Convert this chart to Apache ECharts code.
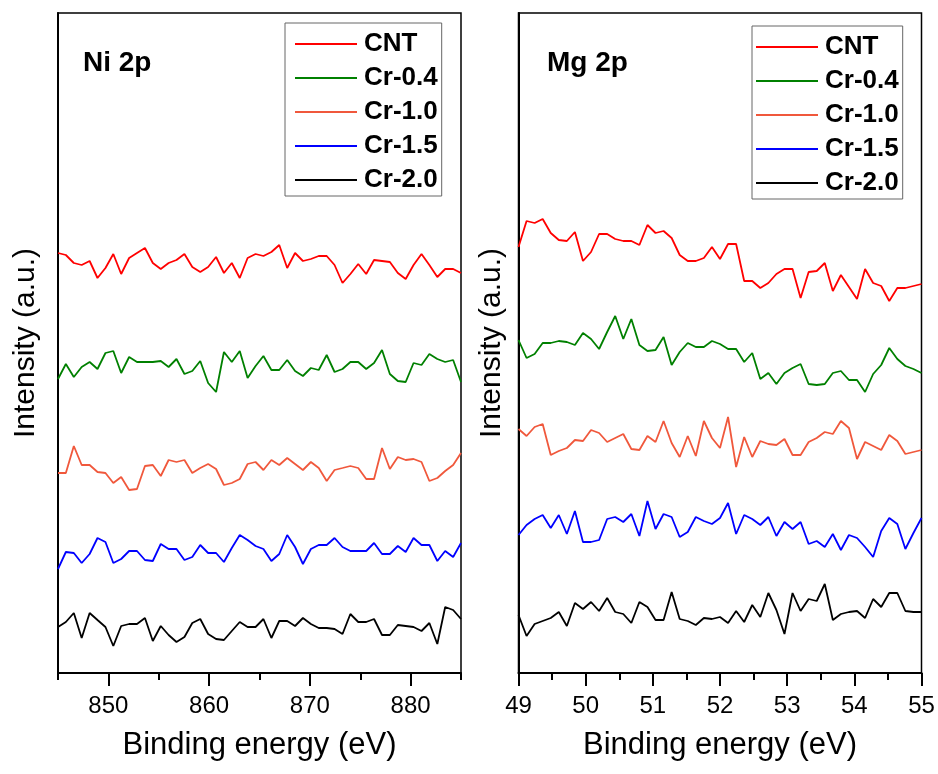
<!DOCTYPE html>
<html>
<head>
<meta charset="utf-8">
<script src="https://cdn.jsdelivr.net/npm/echarts@6/dist/echarts.min.js"></script>
<style>
html, body { margin: 0; padding: 0; background: #fff; }
#chart { width: 938px; height: 774px; }
</style>
</head>
<body>
<div id="chart"></div>
<script>
// binding energies (eV)
const niEnergy = [845.0, 845.78, 846.57, 847.35, 848.14, 848.92, 849.71, 850.49, 851.27, 852.06, 852.84, 853.63, 854.41, 855.2, 855.98, 856.76, 857.55, 858.33, 859.12, 859.9, 860.69, 861.47, 862.25, 863.04, 863.82, 864.61, 865.39, 866.18, 866.96, 867.75, 868.53, 869.31, 870.1, 870.88, 871.67, 872.45, 873.24, 874.02, 874.8, 875.59, 876.37, 877.16, 877.94, 878.73, 879.51, 880.29, 881.08, 881.86, 882.65, 883.43, 884.22, 885.0];
const mgEnergy = [49, 49.12, 49.24, 49.36, 49.48, 49.6, 49.72, 49.84, 49.96, 50.08, 50.2, 50.32, 50.44, 50.56, 50.68, 50.8, 50.92, 51.04, 51.16, 51.28, 51.4, 51.52, 51.64, 51.76, 51.88, 52, 52.12, 52.24, 52.36, 52.48, 52.6, 52.72, 52.84, 52.96, 53.08, 53.2, 53.32, 53.44, 53.56, 53.68, 53.8, 53.92, 54.04, 54.16, 54.28, 54.4, 54.52, 54.64, 54.76, 54.88, 55];

const names = ['CNT', 'Cr-0.4', 'Cr-1.0', 'Cr-1.5', 'Cr-2.0'];
const colors = ['#ff0000', '#008000', '#f0583c', '#0000ff', '#000000'];

// Ni 2p intensities (a.u., stacked offsets)
const niCNT = [420, 418, 410, 408, 412, 395, 405, 419, 399, 415, 420, 425, 410, 404, 410, 413, 419, 406, 401, 406, 416, 400, 410, 395, 415, 419, 417, 421, 428, 405, 420, 412, 414, 417, 417, 408, 390, 399, 409, 399, 413, 412, 411, 400, 394, 408, 419, 408, 396, 404, 404, 400];
const niCr04 = [294, 309, 296, 306, 311, 304, 320, 322, 300, 316, 311, 311, 311, 312, 306, 314, 299, 302, 312, 290, 281, 321, 311, 322, 295, 307, 317, 303, 303, 313, 302, 297, 305, 303, 318, 301, 304, 311, 311, 304, 310, 323, 299, 292, 291, 310, 308, 319, 314, 311, 313, 291];
const niCr10 = [200, 200, 227, 208, 208, 201, 200, 190, 196, 183, 184, 207, 208, 197, 213, 211, 213, 200, 205, 209, 204, 188, 190, 194, 209, 211, 203, 213, 208, 215, 209, 203, 211, 205, 192, 203, 205, 207, 205, 194, 194, 225, 204, 216, 213, 214, 211, 192, 195, 202, 208, 220];
const niCr15 = [104, 121, 120, 110, 119, 135, 131, 110, 114, 122, 122, 113, 112, 129, 124, 124, 113, 116, 128, 120, 120, 111, 125, 138, 133, 127, 124, 112, 119, 138, 126, 109, 124, 128, 128, 135, 126, 122, 122, 122, 130, 119, 119, 127, 121, 135, 128, 128, 112, 122, 116, 130];
const niCr20 = [46, 51, 60, 35, 60, 53, 46, 27, 47, 49, 49, 55, 32, 47, 38, 31, 36, 50, 54, 39, 34, 33, 42, 51, 46, 46, 54, 35, 52, 52, 47, 55, 49, 45, 45, 44, 39, 59, 51, 51, 54, 38, 38, 48, 47, 46, 42, 50, 29, 66, 63, 54];

// Mg 2p intensities
const mgCNT = [426, 452, 450, 454, 440, 433, 432, 441, 412, 421, 439, 439, 434, 432, 432, 428, 448, 440, 442, 435, 418, 412, 412, 415, 426, 414, 429, 429, 392, 392, 385, 390, 399, 404, 404, 375, 401, 402, 410, 382, 398, 386, 374, 404, 390, 387, 372, 385, 385, 387, 389];
const mgCr04 = [333, 315, 319, 330, 330, 332, 331, 328, 340, 334, 324, 341, 357, 334, 354, 328, 322, 323, 336, 308, 321, 330, 326, 326, 332, 329, 324, 324, 311, 320, 294, 300, 289, 300, 305, 309, 289, 288, 289, 300, 302, 293, 293, 281, 299, 308, 325, 314, 307, 304, 300];
const mgCr10 = [244, 237, 246, 249, 218, 222, 225, 233, 232, 243, 240, 231, 235, 239, 224, 223, 237, 231, 252, 230, 216, 237, 217, 252, 235, 225, 256, 206, 236, 216, 232, 229, 228, 234, 218, 218, 231, 235, 241, 239, 252, 245, 214, 231, 227, 223, 238, 232, 219, 221, 223];
const mgCr15 = [138, 148, 154, 158, 145, 158, 139, 162, 131, 131, 133, 154, 156, 151, 159, 137, 172, 144, 159, 156, 136, 141, 156, 152, 149, 155, 170, 139, 158, 154, 148, 156, 137, 151, 144, 151, 129, 132, 126, 139, 123, 138, 135, 126, 116, 142, 155, 149, 124, 140, 155];
const mgCr20 = [58, 37, 49, 52, 55, 61, 47, 70, 64, 71, 62, 75, 61, 59, 50, 71, 66, 53, 53, 81, 54, 52, 48, 55, 54, 56, 50, 62, 51, 68, 56, 80, 63, 39, 80, 62, 74, 72, 89, 53, 59, 61, 62, 55, 74, 66, 80, 80, 62, 61, 61];

const niTicks = [850, 860, 870, 880];
const niMinorTicks = [845, 855, 865, 875, 885];

const niSets = [niCNT, niCr04, niCr10, niCr15, niCr20];
const mgSets = [mgCNT, mgCr04, mgCr10, mgCr15, mgCr20];

const sans = "'Liberation Sans', Arial, sans-serif";

let myChart = echarts.init(document.getElementById('chart'));

function zip (xs, ys) {
  return ys.map((y, i) => [xs[i], y]);
}

function yAxisFor (grid, gap) {
  return {
    type: 'value',
    gridIndex: grid,
    min: 0,
    max: 660,
    name: 'Intensity (a.u.)',
    nameLocation: 'middle',
    nameGap: gap,
    nameTextStyle: { fontFamily: sans, fontSize: 30, color: '#000' },
    axisLine: { show: true, lineStyle: { color: '#000', width: 2 } },
    axisTick: { show: false },
    axisLabel: { show: false },
    splitLine: { show: false }
  };
}

function legendFor (left, top, padLeft) {
  return {
    orient: 'vertical',
    left: left,
    top: top,
    data: names,
    // plain line key, 62 px long and 2 px thick
    icon: 'path://M0,0 L62,0 L62,2 L0,2 Z',
    symbolKeepAspect: true,
    itemWidth: 62,
    itemHeight: 26,
    itemGap: 8,
    padding: [8, 4, 3, padLeft],
    borderColor: '#666',
    borderWidth: 1,
    borderRadius: 0,
    textStyle: { fontFamily: sans, fontWeight: 'bold', fontSize: 26, color: '#000', padding: [0, 0, 0, 2] },
    selectedMode: false
  };
}

let series = [];
names.forEach((name, k) => {
  series.push({
    name: name,
    type: 'line',
    xAxisIndex: 0,
    yAxisIndex: 0,
    data: zip(niEnergy, niSets[k]),
    symbol: 'none',
    lineStyle: { color: colors[k], width: 1.8 },
    itemStyle: { color: colors[k] },
    animation: false
  });
  series.push({
    name: name,
    type: 'line',
    xAxisIndex: 2,
    yAxisIndex: 1,
    data: zip(mgEnergy, mgSets[k]),
    symbol: 'none',
    lineStyle: { color: colors[k], width: 1.8 },
    itemStyle: { color: colors[k] },
    animation: false
  });
});

let option = {
  backgroundColor: '#fff',
  animation: false,
  title: [
    { text: 'Ni 2p', left: 83, top: 49, padding: 0, textStyle: { fontFamily: sans, fontWeight: 'bold', fontSize: 28, color: '#000' } },
    { text: 'Mg 2p', left: 547, top: 49, padding: 0, textStyle: { fontFamily: sans, fontWeight: 'bold', fontSize: 28, color: '#000' } }
  ],
  legend: [
    legendFor(285, 23, 10),
    legendFor(752, 26, 4)
  ],
  grid: [
    { left: 58, top: 13, width: 403, height: 660, show: true, borderColor: '#000', borderWidth: 1.5 },
    { left: 518.5, top: 13, width: 403, height: 660, show: true, borderColor: '#000', borderWidth: 1.5 }
  ],
  xAxis: [
    {
      type: 'value',
      gridIndex: 0,
      min: 845,
      max: 885,
      name: 'Binding energy (eV)',
      nameLocation: 'middle',
      nameGap: 57,
      nameTextStyle: { fontFamily: sans, fontSize: 31, color: '#000', verticalAlign: 'top' },
      axisLine: { lineStyle: { color: '#000', width: 2 } },
      axisTick: { customValues: niTicks, length: 13, lineStyle: { color: '#000', width: 2 } },
      axisLabel: { customValues: niTicks, margin: 21, fontFamily: sans, fontSize: 24, color: '#000' },
      splitLine: { show: false }
    },
    {
      // short ticks between the labelled ones
      type: 'value',
      gridIndex: 0,
      position: 'bottom',
      min: 845,
      max: 885,
      axisLine: { show: false },
      axisTick: { customValues: niMinorTicks, length: 7, lineStyle: { color: '#000', width: 2 } },
      axisLabel: { show: false },
      splitLine: { show: false }
    },
    {
      type: 'value',
      gridIndex: 1,
      min: 49,
      max: 55,
      interval: 1,
      name: 'Binding energy (eV)',
      nameLocation: 'middle',
      nameGap: 57,
      nameTextStyle: { fontFamily: sans, fontSize: 31, color: '#000', verticalAlign: 'top' },
      axisLine: { lineStyle: { color: '#000', width: 2 } },
      axisTick: { length: 13, lineStyle: { color: '#000', width: 2 } },
      minorTick: { show: true, splitNumber: 2, length: 7, lineStyle: { color: '#000', width: 2 } },
      axisLabel: { margin: 21, fontFamily: sans, fontSize: 24, color: '#000' },
      splitLine: { show: false }
    }
  ],
  yAxis: [yAxisFor(0, 17), yAxisFor(1, 12)],
  series: series
};

myChart.setOption(option);
</script>
</body>
</html>
